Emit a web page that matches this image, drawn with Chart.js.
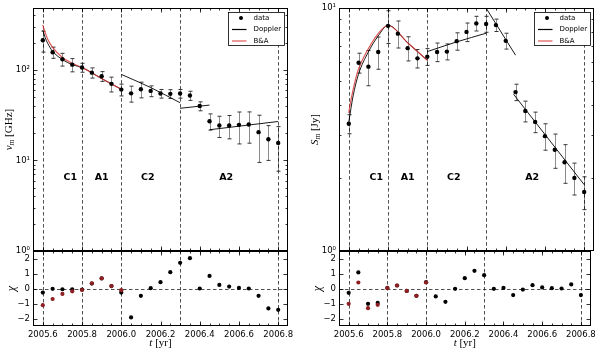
<!DOCTYPE html>
<html>
<head>
<meta charset="utf-8">
<script src="https://cdn.jsdelivr.net/npm/chart.js@4.4.1/dist/chart.umd.min.js"></script>
<style>
  html, body { margin: 0; padding: 0; background: #fff; }
  #wrap { position: relative; width: 600px; height: 352px; overflow: hidden; }
  canvas { position: absolute; left: 0; top: 0; }
</style>
</head>
<body>
<div id="wrap">
  <canvas id="lm" width="600" height="352"></canvas>
  <canvas id="lr" width="600" height="352"></canvas>
  <canvas id="rm" width="600" height="352"></canvas>
  <canvas id="rr" width="600" height="352"></canvas>
</div>
<script>
// epochs of the observations [yr]
const tYears = [2005.60, 2005.65, 2005.70, 2005.75, 2005.80, 2005.85, 2005.90, 2005.95, 2006.00,
  2006.05, 2006.10, 2006.15, 2006.20, 2006.25, 2006.30, 2006.35, 2006.40, 2006.45,
  2006.50, 2006.55, 2006.60, 2006.65, 2006.70, 2006.75, 2006.80];
const tBA = tYears.slice(0, 9);

const xTicks = [2005.6, 2005.8, 2006.0, 2006.2, 2006.4, 2006.6, 2006.8];
const boundaries = [2005.6, 2005.8, 2006.0, 2006.3, 2006.8];
const regionNames = ["C1", "A1", "C2", "A2"];
const regionX = [2005.74, 2005.90, 2006.135, 2006.535];
const nuTicks = [1, 10, 100];
const sTicks = [1, 10];
const chiTicks = [-2, -1, 0, 1, 2];

// turnover frequency nu_m [GHz]
const nuData = [212, 156, 131, 114, 106, 93, 85, 70, 60.5, 55, 61, 58.5, 54.7, 54.3, 54.7, 52,
  39.8, 27.1, 24.3, 24.3, 24.7, 24.9, 20.5, 17.1, 15.6];
const nuErr = [55, 22, 21, 19, 12, 12, 10.5, 13, 9, 11, 12, 8, 6, 6, 6, 6,
  4.5, 5.5, 6.4, 7, 9.5, 9.4, 11, 7.1, 8];
// turnover flux S_m [Jy]
const sData = [3.34, 5.96, 5.74, 6.60, 8.45, 7.85, 6.84, 6.21, 6.31, 6.60, 6.62, 7.31, 7.98,
  8.65, 8.60, 8.51, 7.33, 4.51, 3.77, 3.40, 2.97, 2.61, 2.32, 2.00, 1.75];
const sErr = [0.3, 0.56, 0.95, 1.0, 1.3, 1.0, 0.78, 0.54, 0.5, 0.58, 0.5, 0.6, 0.7,
  0.6, 0.65, 0.5, 0.55, 0.35, 0.37, 0.33, 0.37, 0.42, 0.42, 0.3, 0.27];

// residuals chi
const chiNuDop = [-0.27, -0.02, -0.05, -0.05, -0.07, 0.33, 0.67, 0.16, -0.27, -1.93, -0.49, 0.02,
  0.42, 1.09, 1.71, 2.02, 0.0, 0.84, 0.24, 0.13, 0.04, 0.0, -0.49, -1.33, -1.42];
const chiNuBA = [-1.11, -0.70, -0.36, -0.19, -0.10, 0.35, 0.68, 0.16, -0.11];
const chiSDop = [-0.29, 1.07, -1.02, -0.96, 0.04, 0.20, -0.16, -0.49, 0.42, -0.53, -0.89, -0.02,
  0.69, 1.18, 0.89, -0.02, 0.04, -0.44, -0.07, 0.22, 0.07, 0.02, 0.0, 0.27, -0.44];
const chiSBA = [-1.02, 0.40, -1.31, -1.09, 0.02, 0.20, -0.16, -0.49, 0.40];

// model curves (null = break between segments)
const nuDopCurve = [
  [2005.600, 275], [2005.612, 227], [2005.625, 196], [2005.650, 160], [2005.700, 130],
  [2005.750, 114], [2005.800, 106], [2005.900, 80], [2006.000, 61], null,
  [2006.000, 89], [2006.150, 63.7], [2006.300, 43.3], null,
  [2006.300, 37.6], [2006.450, 40.8], null,
  [2006.450, 21.8], [2006.800, 26.9]
];
const nuBACurve = [
  [2005.600, 312], [2005.612, 257], [2005.625, 218], [2005.650, 177], [2005.700, 137],
  [2005.750, 118], [2005.800, 106], [2005.900, 80], [2006.000, 61]
];
const sDopCurve = [
  [2005.600, 3.4], [2005.622, 4.35], [2005.649, 5.33], [2005.698, 6.56], [2005.748, 7.64],
  [2005.800, 8.5], [2005.900, 7.2], [2006.000, 6.1], null,
  [2006.000, 6.62], [2006.150, 7.26], [2006.300, 7.88], null,
  [2006.300, 10.0], [2006.450, 6.4], null,
  [2006.440, 4.42], [2006.800, 1.875]
];
const sBACurve = [
  [2005.600, 3.7], [2005.605, 3.94], [2005.622, 4.62], [2005.649, 5.6], [2005.698, 6.77],
  [2005.748, 7.82], [2005.800, 8.5], [2005.900, 7.2], [2006.000, 6.1]
];

const tMin = 2005.55, tMax = 2006.85;
const RED_LINE = "rgba(214,45,45,0.8)";
const RED_DOT = "#8e1f22";
const SERIF = '"Liberation Serif", "DejaVu Serif", serif';

Chart.defaults.font.family = '"DejaVu Sans", sans-serif';
Chart.defaults.font.size = 8.5;
Chart.defaults.color = "#000";

const supers = { 1: "10\u2070", 10: "10\u00b9", 100: "10\u00b2" };

function toPts(xs, ys) { return xs.map((x, i) => ({ x: x, y: ys[i] })); }
function toCurve(arr) {
  let out = [];
  arr.forEach((p, i) => {
    if (p === null) out.push({ x: arr[i - 1][0], y: null });
    else out.push({ x: p[0], y: p[1] });
  });
  return out;
}

function ln(ctx, x0, y0, x1, y1) {
  ctx.beginPath(); ctx.moveTo(x0, y0); ctx.lineTo(x1, y1); ctx.stroke();
}

function drawParts(ctx, parts, cx, cy, rot) {
  ctx.save();
  ctx.translate(cx, cy);
  if (rot) ctx.rotate(-Math.PI / 2);
  let w = 0;
  parts.forEach(p => { ctx.font = p.font; w += ctx.measureText(p.text).width; });
  let xx = -w / 2;
  ctx.textBaseline = "middle";
  ctx.textAlign = "left";
  ctx.fillStyle = "#000";
  parts.forEach(p => {
    ctx.font = p.font;
    ctx.fillText(p.text, xx, p.dy || 0);
    xx += ctx.measureText(p.text).width;
  });
  ctx.restore();
}

// error bars, dashed guides, frame, inward ticks, region names, legend, axis titles
function makeDecor(cfg) {
  return {
    id: "decor",
    beforeDatasetsDraw(chart) {
      const { ctx, chartArea: a, scales: { x, y } } = chart;
      ctx.save();
      ctx.beginPath(); ctx.rect(a.left, a.top, a.width, a.height); ctx.clip();
      ctx.strokeStyle = "#222";
      ctx.lineWidth = 0.8;
      ctx.setLineDash([3.5, 2.5]);
      boundaries.forEach(v => {
        const px = Math.round(x.getPixelForValue(v)) + 0.5;
        ln(ctx, px, a.top, px, a.bottom);
      });
      if (cfg.zero) {
        const py = Math.round(y.getPixelForValue(0)) + 0.5;
        ln(ctx, a.left, py, a.right, py);
      }
      ctx.setLineDash([]);
      if (cfg.err) {
        const vals = cfg.err[0], errs = cfg.err[1];
        tYears.forEach((t, i) => {
          const px = Math.round(x.getPixelForValue(t)) + 0.5;
          const lo = Math.max(vals[i] - errs[i], 0.05);
          const y0 = y.getPixelForValue(lo), y1 = y.getPixelForValue(vals[i] + errs[i]);
          ctx.strokeStyle = "rgba(0,0,0,0.45)";
          ctx.lineWidth = 1;
          ln(ctx, px, y0, px, y1);
          ctx.strokeStyle = "#333";
          ln(ctx, px - 2, y0, px + 2, y0);
          ln(ctx, px - 2, y1, px + 2, y1);
        });
      }
      ctx.restore();
    },
    afterDraw(chart) {
      const { ctx, chartArea: a, scales: { x, y } } = chart;
      ctx.save();
      ctx.strokeStyle = "#000";
      ctx.lineWidth = 1;
      const L = Math.round(a.left) + 0.5, R = Math.round(a.right) - 0.5;
      const T = Math.round(a.top) + 0.5, B = Math.round(a.bottom) - 0.5;
      ctx.strokeRect(L, T, R - L, B - T);

      ctx.lineWidth = 0.8;
      // x ticks on top and bottom
      const xt = (v, len) => {
        const px = Math.round(x.getPixelForValue(v)) + 0.5;
        ln(ctx, px, B, px, B - len);
        ln(ctx, px, T, px, T + len);
      };
      for (let k = 1; k < 26; k++) xt(tMin + k * 0.05, 2);
      xTicks.forEach(v => xt(v, 4));
      // y ticks on left and right
      const yt = (v, len) => {
        const py = Math.round(y.getPixelForValue(v)) + 0.5;
        ln(ctx, L, py, L + len, py);
        ln(ctx, R, py, R - len, py);
      };
      if (cfg.log) {
        cfg.yTicks.forEach(d => {
          for (let m = 2; m <= 9; m++) if (m * d < y.max) yt(m * d, 2);
        });
      }
      cfg.yTicks.forEach(v => { if (v > y.min && v < y.max) yt(v, 4); });

      if (cfg.regions) {
        ctx.font = 'bold 9.5px "DejaVu Sans", sans-serif';
        ctx.textAlign = "center";
        ctx.textBaseline = "middle";
        ctx.fillStyle = "#000";
        const py = a.top + 0.697 * (a.bottom - a.top);
        regionNames.forEach((n, i) => ctx.fillText(n, x.getPixelForValue(regionX[i]), py));
      }

      if (cfg.legend) {
        const bw = 56, bh = 33;
        const bx = Math.round(a.right - 4 - bw) + 0.5, by = Math.round(a.top + 4) + 0.5;
        ctx.fillStyle = "#fff";
        ctx.fillRect(bx, by, bw, bh);
        ctx.strokeStyle = "#000";
        ctx.lineWidth = 0.8;
        ctx.strokeRect(bx, by, bw, bh);
        ctx.font = '7px "DejaVu Sans", sans-serif';
        ctx.textAlign = "left";
        ctx.textBaseline = "middle";
        chart.data.datasets.forEach((ds, i) => {
          const ry = by + 5.5 + i * 11.5;
          if (ds.showLine === false) {
            ctx.fillStyle = "#000";
            ctx.beginPath(); ctx.arc(bx + 12.5, ry, 2, 0, Math.PI * 2); ctx.fill();
          } else {
            ctx.strokeStyle = ds.borderColor;
            ctx.lineWidth = 1.2;
            ln(ctx, bx + 3.5, ry, bx + 18, ry);
          }
          ctx.fillStyle = "#000";
          ctx.fillText(ds.label, bx + 25, ry);
        });
      }

      drawParts(ctx, cfg.ylabel, a.left - cfg.ylabelOff, (a.top + a.bottom) / 2, true);
      if (cfg.xlabel) drawParts(ctx, cfg.xlabel, (a.left + a.right) / 2, a.bottom + 17, false);
      ctx.restore();
    }
  };
}

function xScale(showLabels) {
  return {
    type: "linear", min: tMin, max: tMax,
    grid: { display: false, drawTicks: false }, border: { display: false },
    afterBuildTicks: s => { s.ticks = xTicks.map(v => ({ value: v })); },
    ticks: { display: showLabels, padding: 4, maxRotation: 0, autoSkip: false,
      callback: v => v.toFixed(1) },
    afterFit: s => { s.height = showLabels ? 26 : 0; }
  };
}
function logScale(max, tickArr) {
  return {
    type: "logarithmic", min: 1, max: max,
    grid: { display: false, drawTicks: false }, border: { display: false },
    afterBuildTicks: s => { s.ticks = tickArr.map(v => ({ value: v })); },
    ticks: { padding: 3, autoSkip: false, callback: v => supers[v] || "" },
    afterFit: s => { s.width = 33; }
  };
}
function chiScale() {
  return {
    type: "linear", min: -2.5, max: 2.5,
    grid: { display: false, drawTicks: false }, border: { display: false },
    afterBuildTicks: s => { s.ticks = chiTicks.map(v => ({ value: v })); },
    ticks: { padding: 3, autoSkip: false,
      callback: v => (v < 0 ? "\u2212" + Math.abs(v) : String(v)) },
    afterFit: s => { s.width = 33; }
  };
}

function mainChart(id, pad, vals, curveDop, curveBA, yMax, tickArr, ylabel) {
  new Chart(document.getElementById(id), {
    type: "line",
    data: {
      datasets: [
        { label: "data", data: toPts(tYears, vals), showLine: false, order: 0,
          pointRadius: 2.2, pointBackgroundColor: "#000", pointBorderWidth: 0 },
        { label: "Doppler", data: toCurve(curveDop), order: 2, borderColor: "#000",
          borderWidth: 0.9, pointRadius: 0, spanGaps: false, cubicInterpolationMode: "monotone" },
        { label: "B&A", data: toCurve(curveBA), order: 1, borderColor: RED_LINE,
          borderWidth: 1.2, pointRadius: 0, spanGaps: false, cubicInterpolationMode: "monotone" }
      ]
    },
    options: {
      responsive: false, animation: false, events: [],
      layout: { padding: pad },
      plugins: { legend: { display: false }, tooltip: { enabled: false } },
      scales: { x: xScale(false), y: logScale(yMax, tickArr) }
    },
    plugins: [makeDecor({ log: true, yTicks: tickArr, err: [vals, vals === nuData ? nuErr : sErr],
      legend: true, regions: true, ylabel: ylabel, ylabelOff: 24 })]
  });
}

function residChart(id, pad, chiDop, chiBA) {
  new Chart(document.getElementById(id), {
    type: "line",
    data: {
      datasets: [
        { label: "B&A", data: toPts(tBA, chiBA), showLine: false, order: 0,
          pointRadius: 2.1, pointBackgroundColor: RED_DOT, pointBorderWidth: 0 },
        { label: "Doppler", data: toPts(tYears, chiDop), showLine: false, order: 1,
          pointRadius: 2.1, pointBackgroundColor: "#000", pointBorderWidth: 0 }
      ]
    },
    options: {
      responsive: false, animation: false, events: [],
      layout: { padding: pad },
      plugins: { legend: { display: false }, tooltip: { enabled: false } },
      scales: { x: xScale(true), y: chiScale() }
    },
    plugins: [makeDecor({ log: false, yTicks: chiTicks, zero: true,
      ylabel: [{ text: "\u03c7", font: "italic 12px " + SERIF }], ylabelOff: 21,
      xlabel: [{ text: "t", font: "italic 11px " + SERIF }, { text: " [yr]", font: "11px " + SERIF }] })]
  });
}

mainChart("lm", { left: 0, right: 312, top: 7, bottom: 101 }, nuData, nuDopCurve, nuBACurve, 480, nuTicks,
  [{ text: "\u03bd", font: "italic 11px " + SERIF }, { text: "m", font: "italic 8px " + SERIF, dy: 2.5 },
   { text: " [GHz]", font: "11px " + SERIF }]);
residChart("lr", { left: 0, right: 312, top: 251, bottom: 0 }, chiNuDop, chiNuBA);
mainChart("rm", { left: 306, right: 6, top: 7, bottom: 101 }, sData, sDopCurve, sBACurve, 10, sTicks,
  [{ text: "S", font: "italic 11px " + SERIF }, { text: "m", font: "italic 8px " + SERIF, dy: 2.5 },
   { text: " [Jy]", font: "11px " + SERIF }]);
residChart("rr", { left: 306, right: 6, top: 251, bottom: 0 }, chiSDop, chiSBA);
</script>
</body>
</html>
